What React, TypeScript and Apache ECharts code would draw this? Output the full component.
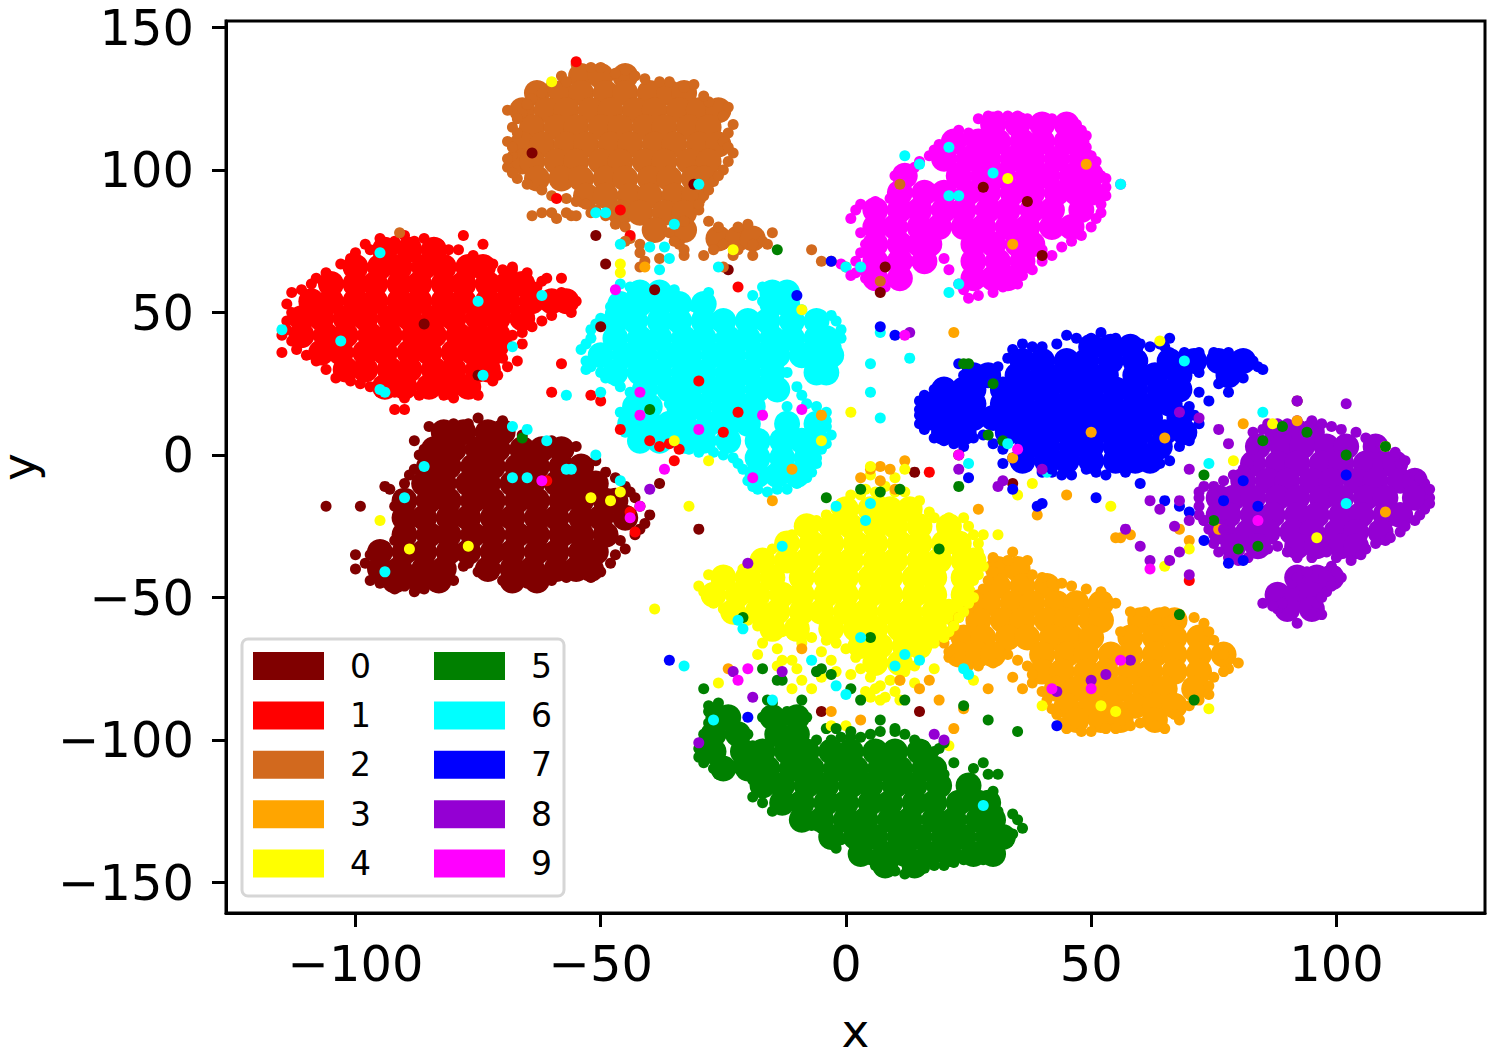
import React, { useEffect, useRef } from "react";
import * as echarts from "echarts";

// The reference holds thousands of overlapping dots that cannot be read one by one.
// Each blob is approximated: "core" rows are estimated fill positions drawn with a larger
// marker, "edge" points are estimated dots on its outline, and "stray" points are read dots.
const classNames = ["0", "1", "2", "3", "4", "5", "6", "7", "8", "9"];
const classColors = ["#800000", "#ff0000", "#d2691e", "#ffa500", "#ffff00", "#008000", "#00ffff", "#0000ff", "#9400d3", "#ff00ff"];
const xTicks = [-100, -50, 0, 50, 100];
const yTicks = [-150, -100, -50, 0, 50, 100, 150];

type Row = [number, number[]];
const core0: Row[] = [[8,[-82,-78,-73,-70]],[2,[-84,-80,-75,-71,-66,-62,-58]],[-4,[-85,-81,-76,-72,-67,-63,-58,-54]],[-10,[-86,-82,-77,-73,-68,-64,-59,-55,-51]],[-16,[-90,-85,-81,-76,-72,-67,-63,-58,-54,-49,-47]],[-22,[-90,-86,-81,-77,-72,-68,-63,-59,-54,-50,-45]],[-28,[-90,-85,-81,-76,-72,-67,-63,-58,-54,-49]],[-34,[-95,-90,-86,-81,-77,-72,-68,-63,-59,-54,-51]],[-40,[-95,-91,-86,-82,-73,-68,-64,-59,-55,-52]],[-44,[-92,-87,-83,-68,-63]]];
const core1: Row[] = [[72,[-94,-89,-84]],[66,[-100,-95,-91,-86,-82,-77,-74]],[60,[-105,-100,-96,-91,-87,-82,-78,-73,-69,-66]],[54,[-109,-105,-100,-96,-91,-87,-82,-78,-73,-69,-64,-60,-57]],[48,[-111,-107,-102,-98,-93,-89,-84,-80,-75,-71,-66]],[42,[-111,-106,-102,-97,-93,-88,-84,-79,-75,-71]],[36,[-107,-103,-98,-94,-89,-85,-80,-76,-72]],[30,[-102,-98,-93,-89,-84,-80,-75,-73]],[24,[-94,-90,-85,-81,-77]]];
const core2: Row[] = [[133,[-54,-50,-45]],[127,[-63,-58,-54,-49,-45,-40,-36,-33]],[121,[-66,-61,-57,-52,-48,-43,-39,-34,-30,-26]],[115,[-64,-59,-55,-50,-46,-41,-37,-32,-28]],[109,[-66,-62,-57,-53,-48,-44,-39,-35,-30,-26]],[103,[-66,-64,-59,-55,-50,-46,-41,-37,-32,-28]],[97,[-63,-58,-54,-49,-45,-40,-36,-31,-29]],[91,[-53,-49,-44,-40,-35,-31]],[85,[-46,-42,-37,-33]],[79,[-39,-33]],[76,[-26,-22,-19]]];
const core3: Row[] = [[-40,[31,35]],[-46,[31,36,41]],[-52,[29,34,38,43,47,52]],[-58,[27,32,36,41,45,50,52,60,64,67]],[-64,[24,28,33,37,42,46,50,58,63,67,72]],[-70,[23,27,30,40,45,49,54,58,63,67,72,77]],[-76,[40,44,49,53,58,62,67,72]],[-82,[43,47,52,56,61,65,71]],[-88,[45,50,54,59,63,67]],[-93,[47,52,56,63]]];
const core4: Row[] = [[-19,[0,5,9,13]],[-25,[-8,-3,1,6,10,15,21]],[-31,[-12,-7,-3,2,6,11,15,20,23]],[-37,[-17,-12,-8,-3,1,6,10,15,19,24,26]],[-43,[-25,-20,-15,-9,-4,0,5,9,14,18,24]],[-49,[-27,-22,-18,-13,-9,-4,0,5,9,14,18,24]],[-55,[-23,-18,-14,-9,-5,0,4,9,13,18,21]],[-61,[-15,-10,-3,2,6,11,15,18]],[-67,[3,7,12,15]],[-73,[6,11]]];
const core5: Row[] = [[-92,[-26,-24,-15,-10]],[-98,[-27,-22,-14,-10]],[-104,[-27,-21,-17,-12,-8,-3,1,6,10,15]],[-110,[-25,-20,-16,-11,-7,-2,2,7,11,16,18]],[-116,[-17,-13,-8,-4,1,5,10,14,19,25]],[-122,[-13,-9,-4,0,5,9,14,18,23,27,29]],[-128,[-9,-5,0,4,9,13,18,22,27,30]],[-134,[-3,2,6,11,15,20,24,29,32]],[-140,[3,8,12,17,21,26,30]],[-144,[8,14]]];
const core6: Row[] = [[57,[-42,-38,-15,-12]],[53,[-46,-42,-38,-34,-29,-15,-12]],[47,[-47,-43,-38,-34,-29,-25,-20,-16,-11,-6]],[41,[-47,-42,-38,-33,-29,-24,-20,-15,-11,-6,-4]],[35,[-50,-45,-41,-36,-32,-27,-23,-18,-14,-9,-5,-3]],[29,[-47,-42,-38,-33,-29,-24,-20,-15,-6,-4]],[23,[-41,-36,-32,-27,-23,-18,-14]],[17,[-43,-40,-34,-30,-25,-21,-19]],[11,[-44,-40,-36,-33,-28,-24,-20,-12,-6]],[5,[-42,-38,-33,-29,-24,-18,-13,-9,-6]],[-1,[-18,-13,-8]],[-7,[-18,-14,-10]]];
const core7: Row[] = [[38,[50,54,58]],[33,[36,40,45,49,54,59,66,71,76,81]],[28,[26,29,35,40,44,49,53,59,63,68,78]],[23,[20,24,26,32,37,41,46,50,55,59,64,68]],[18,[18,22,26,32,36,41,45,50,54,59,63,66]],[13,[18,22,26,30,35,39,44,48,53,57,62,68]],[8,[20,24,33,38,42,47,51,56,60,65,69]],[3,[37,41,46,50,55,59,64]],[-2,[36,41,45,50,55,59,62]]];
const core8: Row[] = [[8,[88,92,95]],[3,[84,89,93,98,102,108]],[-3,[83,88,92,97,101,106,110,112]],[-9,[81,86,90,95,99,104,108,113,116]],[-15,[76,79,83,88,92,97,101,106,110,116]],[-21,[76,78,83,87,92,96,101,105,110,113]],[-27,[77,82,86,91,95,100,104,109]],[-32,[79,84,92,96,101,104]],[-43,[92,96,99]],[-49,[88,92,95]],[-54,[90,95]]];
const core9: Row[] = [[116,[30,35,40,45]],[110,[22,27,31,36,40,45,47]],[104,[20,25,29,34,38,43,48]],[98,[12,23,28,32,37,41,46,50]],[92,[11,16,20,25,29,34,38,43,47,50]],[86,[6,11,15,20,24,29,33,38,42,48]],[80,[6,10,15,19,24,28,33,37,42,46]],[74,[6,11,15,17,26,30,35,38]],[68,[6,11,16,26,31,36]],[62,[6,11,26,30,33]]];
const coreRows: Row[][] = [core0, core1, core2, core3, core4, core5, core6, core7, core8, core9];

const edge0 = [[-85,10],[-80,11],[-75,13],[-70,12],[-88,5],[-66,7],[-60,5],[-55,3],[-51,-2],[-47,-8],[-44,-13],[-42,-18],[-41,-24],[-43,-28],[-46,-30],[-47,-35],[-50,-41],[-55,-42],[-60,-44],[-65,-45],[-70,-44],[-75,-41],[-78,-39],[-80,-44],[-84,-46],[-88,-48],[-92,-47],[-97,-44],[-100,-40],[-97,-35],[-100,-35],[-92,-30],[-91,-22],[-92,-18],[-90,-10],[-88,-5],[-87,0],[-106,-18],[-93,-12],[-95,-34],[-83,8],[-77,11],[-72,10],[-63,3],[-57,1],[-53,-3],[-49,-6],[-45,-11],[-43,-15],[-40,-21],[-42,-26],[-45,-33],[-48,-38],[-52,-43],[-57,-43],[-62,-43],[-68,-45],[-72,-42],[-77,-38],[-82,-42],[-86,-47],[-90,-46],[-95,-45],[-98,-38],[-94,-32],[-89,-25],[-91,-14],[-89,-7],[-86,2]];
const edge1 = [[-95,76],[-90,77],[-86,76],[-83,74],[-79,72],[-76,70],[-72,67],[-68,66],[-65,64],[-62,61],[-58,57],[-55,54],[-56,50],[-60,49],[-64,45],[-68,42],[-70,37],[-69,31],[-72,26],[-75,21],[-80,20],[-85,22],[-90,20],[-95,22],[-99,25],[-104,27],[-108,33],[-112,37],[-115,42],[-114,47],[-114,53],[-113,57],[-109,60],[-106,64],[-101,69],[-98,74],[-74,74],[-78,77],[-68,65],[-61,62],[-70,46],[-66,39],[-67,33],[-90,16],[-115,36],[-92,75],[-88,75],[-81,72],[-74,68],[-70,65],[-63,59],[-60,56],[-58,52],[-62,47],[-66,43],[-69,39],[-70,34],[-71,28],[-77,22],[-82,21],[-87,21],[-92,22],[-97,24],[-101,26],[-106,30],[-110,35],[-113,40],[-114,44],[-113,50],[-111,58],[-108,62],[-103,67],[-100,71],[-97,72]];
const edge2 = [[-55,137],[-50,136],[-45,135],[-41,132],[-36,131],[-31,130],[-28,124],[-24,122],[-23,116],[-25,110],[-23,106],[-25,100],[-27,96],[-29,91],[-30,86],[-33,82],[-28,82],[-26,80],[-20,81],[-17,75],[-19,70],[-23,70],[-27,72],[-33,70],[-38,69],[-42,71],[-45,80],[-49,84],[-53,88],[-57,90],[-62,93],[-67,97],[-69,101],[-68,105],[-69,110],[-68,115],[-66,120],[-69,121],[-64,125],[-60,130],[-58,133],[-60,85],[-56,84],[-52,85],[-64,84],[-44,76],[-29,70],[-34,74],[-15,78],[-16,74],[-33,72],[-52,136],[-47,134],[-43,133],[-38,131],[-33,129],[-29,126],[-25,119],[-24,113],[-24,108],[-24,103],[-26,98],[-28,93],[-30,88],[-36,78],[-42,74],[-47,81],[-51,86],[-55,89],[-60,91],[-65,95],[-68,99],[-69,104],[-68,108],[-67,113],[-67,118],[-65,123],[-62,127],[-57,131],[-25,74],[-22,72],[-19,74],[-22,80]];
const edge3 = [[30,-36],[34,-34],[37,-37],[29,-44],[27,-49],[25,-54],[22,-60],[20,-66],[21,-71],[25,-74],[30,-73],[33,-70],[37,-74],[38,-80],[41,-86],[43,-91],[45,-96],[50,-97],[55,-96],[60,-94],[65,-96],[68,-93],[70,-88],[74,-84],[75,-78],[78,-75],[80,-73],[76,-68],[74,-62],[71,-57],[65,-55],[58,-55],[55,-52],[52,-48],[46,-46],[42,-45],[38,-42],[56,-62],[36,-82],[34,-78],[33,-37],[30,-41],[28,-47],[26,-52],[23,-57],[21,-63],[21,-69],[27,-74],[35,-72],[38,-77],[40,-83],[42,-89],[44,-94],[48,-97],[53,-96],[58,-95],[63,-95],[67,-91],[72,-86],[74,-81],[77,-76],[77,-70],[75,-65],[73,-59],[68,-56],[61,-55],[53,-50],[49,-47],[44,-45],[40,-43]];
const edge4 = [[1,-14],[4,-12],[8,-11],[12,-13],[15,-16],[5,-7],[10,-8],[18,-22],[24,-22],[26,-28],[27,-34],[28,-39],[26,-44],[26,-50],[24,-55],[22,-60],[20,-64],[16,-69],[14,-74],[11,-79],[7,-81],[3,-75],[0,-68],[-4,-65],[-9,-64],[-13,-62],[-18,-60],[-22,-57],[-25,-54],[-28,-50],[-30,-46],[-28,-42],[-24,-41],[-19,-38],[-15,-33],[-11,-28],[-6,-23],[-2,-19],[-17,-66],[-14,-68],[-11,-72],[-5,-78],[-2,-76],[8,-85],[4,-83],[-18,-70],[3,-14],[6,-13],[10,-13],[14,-17],[17,-20],[21,-22],[25,-25],[27,-31],[27,-37],[27,-42],[25,-47],[25,-52],[23,-57],[21,-62],[18,-66],[15,-71],[12,-76],[9,-79],[5,-78],[2,-71],[-2,-66],[-7,-64],[-11,-63],[-16,-61],[-20,-58],[-24,-56],[-27,-52],[-29,-48],[-26,-43],[-21,-40],[-17,-35],[-13,-30],[-8,-25],[-4,-21],[-1,-17],[-9,-66],[-5,-69],[-10,-75],[-7,-82],[-3,-72],[1,-77],[5,-85],[10,-83],[14,-80],[18,-75],[-14,-74]];
const edge5 = [[-29,-82],[-28,-90],[-26,-87],[-24,-92],[-20,-98],[-15,-87],[-12,-90],[-8,-92],[-9,-97],[-29,-98],[-30,-103],[-29,-108],[-26,-112],[-22,-110],[-20,-108],[-19,-120],[-17,-122],[-15,-125],[-10,-126],[-7,-130],[-3,-132],[-2,-138],[2,-138],[5,-142],[8,-146],[12,-147],[16,-145],[20,-144],[24,-142],[28,-142],[30,-140],[33,-136],[36,-131],[34,-126],[31,-125],[30,-118],[31,-112],[28,-108],[26,-110],[24,-117],[20,-112],[18,-104],[14,-100],[10,-96],[5,-98],[1,-99],[-1,-99],[-4,-96],[26,-115],[31,-128],[-28,-94],[-25,-95],[-29,-100],[-30,-106],[-27,-110],[-23,-109],[-19,-114],[-18,-118],[-13,-124],[-8,-128],[-5,-131],[-1,-135],[3,-140],[6,-144],[10,-146],[14,-146],[18,-144],[22,-143],[26,-141],[31,-138],[34,-133],[35,-128],[29,-112],[22,-108],[16,-102],[12,-98],[7,-97],[3,-99],[-3,-100],[-6,-100],[-10,-100],[-17,-92],[-19,-102],[-13,-94]];
const edge6 = [[-44,59],[-40,56],[-36,55],[-47,54],[-48,50],[-51,46],[-52,41],[-54,37],[-53,33],[-50,29],[-47,26],[-44,22],[-43,18],[-46,15],[-44,10],[-42,7],[-38,4],[-32,2],[-27,1],[-23,-1],[-21,-5],[-20,-9],[-18,-12],[-14,-12],[-10,-10],[-7,-6],[-6,-1],[-4,4],[-4,10],[-4,15],[-8,18],[-10,24],[-12,29],[-3,33],[-2,38],[-1,44],[-3,49],[-7,49],[-12,52],[-11,57],[-17,59],[-19,56],[-28,57],[-31,52],[-35,58],[-48,52],[-42,51],[-38,51],[-34,51],[-30,50],[-50,48],[-52,44],[-53,39],[-52,31],[-49,27],[-46,24],[-44,15],[-41,11],[-37,8],[-30,1],[-25,0],[-22,-3],[-19,-11],[-16,-13],[-12,-12],[-8,-8],[-6,-3],[-5,2],[-3,7],[-4,12],[-6,17],[-9,21],[-2,35],[-1,41],[-2,47],[-5,49],[-9,51],[-14,58],[-17,54],[-36,18],[-39,16],[-45,8],[-12,17]];
const edge7 = [[45,42],[52,43],[50,41],[60,39],[64,39],[66,36],[72,36],[78,36],[83,33],[85,30],[81,27],[76,25],[72,22],[70,17],[72,11],[70,7],[68,3],[66,-2],[60,-4],[55,-4],[53,-7],[49,-5],[44,-7],[40,-6],[35,-3],[32,-3],[32,2],[28,7],[24,3],[20,5],[16,9],[15,14],[15,19],[18,23],[24,28],[23,32],[30,27],[33,34],[36,39],[40,38],[78,22],[74,19],[66,41],[65,38],[47,41],[55,41],[58,40],[62,38],[69,36],[75,36],[80,35],[84,31],[79,28],[68,30],[72,29],[71,14],[70,5],[64,-3],[57,-6],[51,-6],[46,-7],[42,-6],[37,-4],[34,-1],[30,4],[26,6],[22,4],[18,6],[15,11],[15,16],[16,21],[20,25],[27,29],[31,31],[34,37],[38,38],[43,39]];
const edge8 = [[72,-13],[75,-11],[79,-7],[82,-3],[84,5],[83,8],[86,11],[90,11],[95,12],[99,10],[104,8],[109,4],[112,1],[113,-3],[116,-7],[118,-10],[119,-15],[118,-19],[116,-23],[113,-27],[110,-30],[106,-33],[103,-37],[98,-34],[92,-36],[88,-32],[84,-34],[80,-37],[76,-34],[75,-28],[73,-23],[72,-18],[78,4],[76,9],[72,13],[68,15],[99,-39],[101,-43],[98,-48],[96,-52],[97,-56],[92,-59],[88,-54],[85,-52],[91,-45],[94,-41],[73,-11],[77,-9],[81,-5],[83,2],[85,9],[88,11],[92,12],[97,11],[101,9],[106,6],[110,3],[114,-2],[117,-8],[119,-12],[119,-17],[117,-21],[114,-25],[111,-29],[108,-31],[105,-35],[100,-36],[95,-36],[90,-34],[86,-33],[82,-36],[78,-36],[75,-31],[74,-26],[72,-21],[72,-15],[100,-41],[99,-46],[97,-50],[95,-56],[89,-52],[87,-53],[92,-43]];
const edge9 = [[29,119],[33,119],[37,118],[42,118],[47,116],[49,112],[23,114],[19,109],[17,105],[22,101],[50,105],[51,100],[53,97],[56,95],[53,91],[52,85],[50,80],[46,75],[42,70],[38,65],[35,60],[30,57],[25,55],[23,60],[20,69],[14,72],[12,64],[8,59],[4,62],[2,68],[4,74],[1,83],[3,88],[9,90],[10,98],[14,101],[47,78],[40,72],[8,68],[-1,67],[2,64],[27,118],[31,119],[35,119],[40,118],[45,117],[48,114],[25,113],[21,111],[18,107],[49,108],[51,103],[52,98],[53,94],[52,88],[51,83],[48,77],[44,73],[40,68],[36,63],[32,59],[27,56],[24,58],[21,65],[17,70],[13,68],[10,61],[6,60],[3,65],[3,71],[3,78],[2,86],[6,89],[11,94],[12,100],[15,103]];
const edgePoints = [edge0, edge1, edge2, edge3, edge4, edge5, edge6, edge7, edge8, edge9];

const stray0 = [[-64,106],[-31,95],[-51,77],[-49,67],[-39,58],[-50,45],[-86,46],[-75,28],[-99,-18],[-94,-11],[-30,-26],[-48,-19],[8,66],[7,57],[28,94],[37,89],[40,70],[92,19],[14,-6],[23,0],[34,-10],[-38,-10],[-24,65],[15,-90],[-5,-90]];
const stray1 = [[-55,138],[-59,90],[-46,86],[-44,77],[-22,59],[-58,62],[-58,32],[-92,16],[-52,21],[-61,-9],[-44,-20],[-43,-27],[-50,19],[-34,2],[-46,9],[-36,4],[-40,5],[-38,3],[-30,26],[-22,15],[70,-44],[-60,22],[17,-6],[-25,8],[-35,-2]];
const stray2 = [[-91,78],[-7,72],[-5,68],[-3,68],[11,95],[-62,85],[-57,85],[-59,83],[-55,84],[0,66],[7,61],[-45,75],[-25,66],[-41,68],[-42,66],[-35,75]];
const stray3 = [[22,43],[34,74],[49,102],[-41,66],[-5,14],[-11,-5],[-15,-16],[50,8],[27,-19],[55,-29],[58,-28],[65,6],[70,-30],[92,12],[81,11],[110,-20],[68,-26],[76,-26],[45,-14],[39,-21],[34,-1],[56,-29],[7,-9],[15,-82],[17,-79],[19,-86],[11,-79],[24,-89],[22,-96],[29,-82],[-24,-75],[-9,-68],[3,-93],[-3,-90],[5,-5],[7,-4],[9,-5],[3,-8],[10,-12],[12,-2]];
const stray4 = [[-60,131],[-46,67],[-46,64],[-23,72],[-9,51],[-95,-23],[-89,-33],[-77,-32],[-52,-15],[33,97],[-46,-13],[-48,-16],[-39,-54],[-32,-18],[1,15],[7,-16],[64,40],[79,-2],[96,-29],[87,11],[35,-14],[54,-18],[65,-39],[70,-33],[110,3],[38,-10],[-5,5],[5,-4],[12,-5],[-26,-80],[26,-79],[40,-88],[52,-88],[74,-89],[55,-90],[28,-28],[23,-30],[31,-28],[-28,-2],[-35,5],[0,-95],[-3,-95],[21,-102],[6,-82],[7,-86],[11,-86],[-9,-79],[-13,-72],[-11,-82]];
const stray5 = [[24,32],[25,32],[30,25],[-40,16],[-66,6],[-14,72],[23,-11],[29,7],[32,5],[68,-56],[71,-86],[75,-23],[80,-33],[84,-32],[85,5],[94,8],[110,3],[102,0],[89,10],[73,-7],[3,-12],[7,-13],[11,-12],[-4,-15],[19,-33],[5,-64],[-21,-57],[-13,-79],[-17,-75],[-6,-76],[-14,-79],[-3,-77],[1,-82],[3,-86],[7,-93],[12,-86],[35,-97],[29,-93],[24,-88],[20,-101],[19,-103],[-28,-88],[-16,-86],[-13,-98],[-9,-86],[-5,-75],[-2,-96],[1,-97],[10,-97]];
const stray6 = [[-115,44],[-103,40],[-95,71],[-75,54],[-62,56],[-68,38],[-74,28],[-95,23],[-94,22],[-86,-4],[-90,-15],[-94,-41],[-68,10],[-65,9],[-61,5],[-56,-5],[-57,-5],[-51,0],[-46,-9],[-68,-8],[-65,-8],[-30,95],[-51,85],[-49,85],[-35,81],[-46,74],[-40,73],[-37,73],[-26,66],[-36,69],[-38,65],[-46,60],[-57,21],[-50,22],[-53,30],[12,105],[15,102],[21,108],[21,91],[23,91],[30,99],[23,60],[21,57],[0,66],[3,66],[56,95],[7,43],[13,34],[5,22],[5,32],[7,13],[33,4],[41,-6],[69,33],[85,15],[74,-3],[102,-17],[25,-3],[-2,-18],[5,-17],[4,-23],[-13,-32],[-21,-61],[-22,-58],[3,-64],[12,-70],[10,-74],[15,-72],[24,-75],[25,-77],[-7,-72],[-33,-74],[-27,-93],[-15,-86],[-2,-81],[0,-84],[28,-123]];
const stray7 = [[-3,68],[7,45],[10,42],[-10,56],[60,-10],[65,-16],[81,-9],[77,-16],[42,-5],[51,-15],[81,-37],[78,-38],[102,-7],[73,-30],[84,-18],[43,-95],[-36,-72],[-20,-92],[34,-12],[25,-8],[39,-18],[40,-17],[70,-20],[68,-18]];
const stray8 = [[102,18],[92,19],[70,-5],[62,-16],[60,-32],[57,-26],[64,-19],[67,-25],[68,-16],[40,-5],[31,-11],[23,-5],[32,-9],[-20,-38],[-19,-85],[-40,-12],[70,-42],[43,-83],[58,-72],[50,-79],[53,-77],[13,43],[-13,-76],[-23,-76],[-30,-101],[18,-98],[20,-100],[62,-37],[66,-37],[68,-34],[73,-23],[77,-26],[70,-23],[75,-14]];
const stray9 = [[-47,58],[-30,9],[-42,22],[-42,14],[-37,-5],[-17,14],[-9,16],[1,63],[12,42],[23,0],[35,2],[-20,-75],[-22,-79],[42,-82],[50,-82],[-62,-9],[-44,-22],[-42,-18],[56,-72],[-19,-8],[62,-40],[84,-23]];
const strayPoints = [stray0, stray1, stray2, stray3, stray4, stray5, stray6, stray7, stray8, stray9];

const rowsToPoints = (rows: Row[]) => rows.flatMap(([y, xs]) => xs.map((x) => [x, y]));
const minusSign = (v: number) => String(v).replace("-", "\u2212");
const FONT = "DejaVu Sans";

export default function App() {
  const ref = useRef<HTMLDivElement>(null);
  useEffect(() => {
    document.body.style.margin = "0";
    const chart = echarts.init(ref.current!, undefined, { renderer: "svg" });
    const base = { type: "scatter", silent: true, itemStyle: { opacity: 1 } };
    const series: any[] = [
      ...classNames.map((name, i) => ({ ...base, name, symbolSize: 26, color: classColors[i], data: rowsToPoints(coreRows[i]) })),
      ...classNames.map((name, i) => ({ ...base, name, symbolSize: 11, color: classColors[i], data: edgePoints[i] })),
      ...classNames.map((name, i) => ({ ...base, name, symbolSize: 11, color: classColors[i], data: strayPoints[i] })),
    ];
    const legendBase = {
      orient: "vertical", icon: "rect", itemWidth: 71, itemHeight: 28, itemGap: 16.4, padding: 0, top: 649.5,
      selectedMode: false, z: 5,
      textStyle: { fontFamily: FONT, fontSize: 33, color: "#000", lineHeight: 28, padding: [0, 0, 0, 21] },
    };
    chart.setOption({
      animation: false,
      backgroundColor: "#fff",
      grid: { left: 226, right: 15, top: 21, bottom: 137, show: true, borderColor: "#000", borderWidth: 3, z: 0, outerBoundsMode: "none" },
      xAxis: {
        type: "value", min: -126.4, max: 130.3, splitLine: { show: false },
        name: "x", nameLocation: "middle", nameGap: 97, nameTextStyle: { fontFamily: FONT, fontSize: 47, color: "#000", lineHeight: 40 },
        axisLine: { show: true, onZero: false, lineStyle: { color: "#000", width: 3 } },
        axisTick: { show: true, length: 14, customValues: xTicks, lineStyle: { color: "#000", width: 3 } },
        axisLabel: { customValues: xTicks, formatter: minusSign, margin: 26, fontFamily: FONT, fontSize: 49.5, color: "#000" },
      },
      yAxis: {
        type: "value", min: -160.7, max: 152.3, splitLine: { show: false },
        name: "y", nameLocation: "middle", nameGap: 193, nameTextStyle: { fontFamily: FONT, fontSize: 47, color: "#000", lineHeight: 30 },
        axisLine: { show: true, onZero: false, lineStyle: { color: "#000", width: 3 } },
        axisTick: { show: true, length: 14, customValues: yTicks, lineStyle: { color: "#000", width: 3 } },
        axisLabel: { customValues: yTicks, formatter: minusSign, margin: 32, fontFamily: FONT, fontSize: 49.5, color: "#000" },
      },
      legend: [
        { ...legendBase, left: 253, data: classNames.slice(0, 5) },
        { ...legendBase, left: 434, data: classNames.slice(5) },
      ],
      graphic: [{
        type: "rect", z: 4, shape: { x: 242, y: 639, width: 322, height: 257, r: 6 },
        style: { fill: "#fff", stroke: "#d6d6d6", lineWidth: 3 },
      }],
      series,
    });
    return () => chart.dispose();
  }, []);
  return <div ref={ref} style={{ width: 1500, height: 1050 }} />;
}
